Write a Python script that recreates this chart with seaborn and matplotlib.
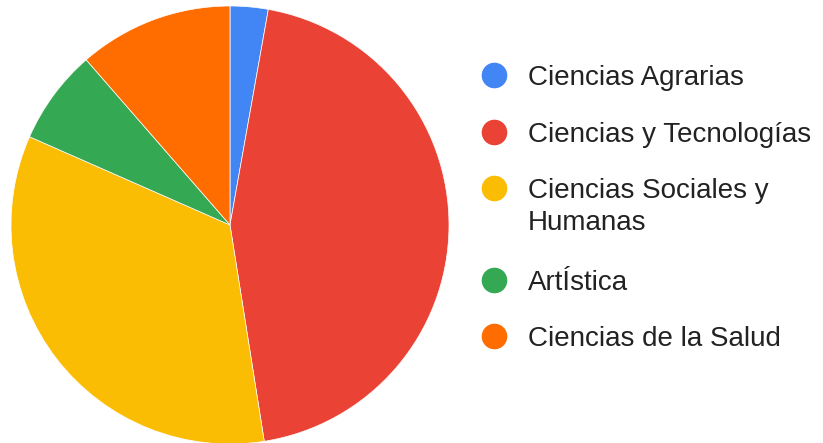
import matplotlib
matplotlib.use("Agg")
import matplotlib.pyplot as plt
import seaborn as sns

# Datos del gráfico (porcentajes)
categorias = ["Ciencias Agrarias", "Ciencias y Tecnologías",
              "Ciencias Sociales y\nHumanas", "ArtÍstica", "Ciencias de la Salud"]
valores = [2.8, 44.7, 34.1, 7.0, 11.4]
colores = ["#4285F4", "#EA4335", "#FBBC04", "#34A853", "#FF6D01"]

sns.set_theme(style="white")
plt.rcParams["font.family"] = ["Liberation Sans", "DejaVu Sans"]

W, H = 823, 443
fig = plt.figure(figsize=(W / 100, H / 100), dpi=100)

# --- Pastel ---
cx, cy, r = 230, 225, 219
ax = fig.add_axes([(cx - r) / W, (H - cy - r) / H, 2 * r / W, 2 * r / H])
paleta = sns.color_palette(colores)
ax.pie(valores, colors=paleta, startangle=90, counterclock=False,
       wedgeprops=dict(edgecolor="white", linewidth=0.5))
ax.set_xlim(-1, 1)
ax.set_ylim(-1, 1)
ax.set_aspect("equal")
ax.axis("off")

# --- Leyenda manual (círculo alineado con la primera línea) ---
ax_leg = fig.add_axes([0, 0, 1, 1], zorder=-1)
ax_leg.set_xlim(0, W)
ax_leg.set_ylim(H, 0)
ax_leg.axis("off")

y = 75
for nombre, color in zip(categorias, paleta):
    ax_leg.scatter([494], [y], s=340, color=color, linewidths=0)
    lineas = nombre.split("\n")
    for i, linea in enumerate(lineas):
        ax_leg.text(528, y + 10 + 32 * i, linea, fontsize=20, color="#222222",
                    va="baseline", ha="left")
    y += 56.5 + 35 * (len(lineas) - 1)

fig.savefig("out.png", dpi=100, facecolor="white")
